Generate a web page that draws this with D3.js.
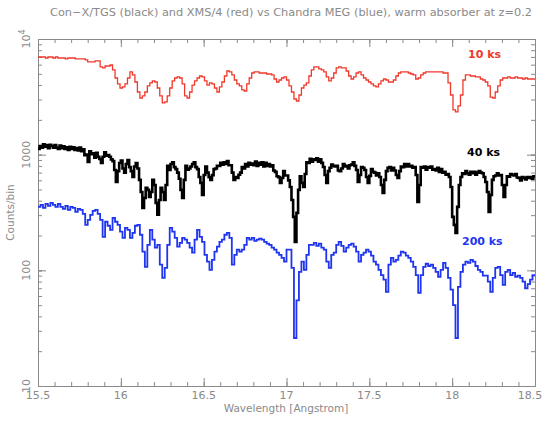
<!DOCTYPE html>
<html><head><meta charset="utf-8">
<script src="https://cdn.jsdelivr.net/npm/d3@7"></script>
<style>body{margin:0;background:#fff}svg{display:block}</style>
</head><body>
<script>
const titleText = "Con\u2212X/TGS (black) and  XMS/4 (red) vs Chandra MEG (blue), warm absorber at z=0.2";
const xLabel = "Wavelength [Angstrom]";
const yLabel = "Counts/bin";
const xTicks = [15.5, 16, 16.5, 17, 17.5, 18, 18.5];
const yTicks = [10, 100, 1000, 10000];
const seriesNames = ["10 ks", "40 ks", "200 ks"];

// XMS/4 (red), bins of 0.015 A starting at 15.5
const redStart = 15.5, redWidth = 0.015;
const redCounts = [
6990,6990,6990,6850,6990,6990,6850,6990,6850,6850,
6850,6720,6850,6850,6850,6720,6720,6720,6720,6590,
6330,6330,6330,6460,6460,5730,5620,5840,5840,5960,
5400,4600,4090,3770,3850,4090,4600,5190,4890,4250,
3480,3090,3220,3480,3930,4170,4340,4250,3770,3220,
2800,2860,3220,3770,4340,4600,4700,4600,4090,3220,
3090,3480,4000,4340,4600,4790,4700,4340,4000,4170,
4090,3770,3480,3850,4250,4790,5290,5190,4890,4420,
4090,3930,3630,3550,4090,4600,5080,5190,5190,5080,
5080,5080,4980,4980,4890,4510,4250,4420,4600,4700,
4420,3930,3480,3030,2910,3280,3770,4000,4170,4790,
5400,5730,5730,5510,5400,5190,4700,4340,4600,5080,
5620,5730,5620,5620,5290,4790,4510,4700,5080,5190,
4890,4600,4420,4250,4090,3930,3850,4090,4340,4510,
4420,4250,4250,4420,4790,5080,5190,5190,5190,5080,
4980,4890,4510,4600,4890,5080,5190,5190,5190,5190,
5190,5190,5190,5080,5080,4170,3280,2440,2340,2640,
3280,4420,4890,4890,4790,4790,4700,4700,4510,4420,
4250,3930,3150,3090,3480,3930,4420,4600,4600,4700,
4600,4600,4700,4600,4600,4510,4600,4510,4510,4510];

// Con-X/TGS (black), bins of 0.01 A
const blackStart = 15.5, blackWidth = 0.01;
const blackCounts = [
1120,1190,1150,1230,1170,1210,1140,1220,1190,1150,
1210,1150,1120,1200,1140,1180,1120,1160,1100,1170,
1120,1160,1100,1140,1090,1150,1070,1110,990,1000,
865,1070,1010,1030,940,1040,960,920,848,960,
1050,980,990,960,910,880,738,581,720,848,
890,760,700,830,900,780,720,642,790,848,
760,605,476,347,423,516,496,431,476,605,
547,383,302,406,516,476,406,547,800,738,
830,860,780,750,700,620,496,423,605,800,
740,760,790,830,860,780,750,642,570,449,
668,790,700,640,605,665,750,760,800,800,
850,820,860,830,880,810,810,700,605,642,
629,670,700,780,760,830,790,850,820,840,
810,870,800,850,820,860,790,850,800,830,
790,810,730,710,650,640,570,629,720,660,
660,600,526,406,290,176,314,496,650,570,
526,680,860,850,920,870,910,900,930,870,
910,850,783,668,570,720,770,820,800,790,
800,730,720,760,830,790,800,760,810,820,
860,800,738,581,668,780,770,738,642,570,
655,750,710,700,660,690,642,547,467,605,
720,770,780,730,770,730,668,629,720,790,
780,830,790,830,790,800,770,780,668,390,
547,780,770,790,740,780,770,790,740,750,
730,770,710,750,700,710,670,680,642,526,
290,247,211,354,547,642,690,680,720,690,
670,710,690,710,670,700,720,700,690,642,
581,476,320,449,605,650,660,690,660,665,
547,431,547,650,645,680,670,660,680,635,
630,600,640,630,610,640,630,640,620,650];

// Chandra MEG (blue), bins of 0.015 A
const blueStart = 15.5, blueWidth = 0.015;
const blueCounts = [
354,368,347,375,361,383,368,354,375,354,
340,361,333,354,347,320,340,333,308,247,
273,302,327,333,308,273,195,263,243,224,
284,263,247,216,191,233,224,191,211,243,
247,203,145,107,166,224,184,157,166,112,
86,105,166,233,216,191,160,173,191,184,
173,157,142,184,224,195,176,136,119,101,
123,145,160,176,184,203,211,191,112,136,
151,145,151,166,191,184,191,180,184,188,
184,176,170,166,157,151,142,136,128,119,
151,151,105,26,55,97,119,101,136,166,
166,173,163,170,157,151,119,105,136,142,
166,176,163,145,157,166,170,160,145,119,
136,142,151,145,134,119,112,101,91,83,
65,112,128,119,123,134,145,142,134,128,
119,107,91,64,91,107,114,109,112,105,
97,88,101,116,105,86,68,50,26,72,
97,112,119,116,123,119,109,101,97,90,
90,80,65,86,105,107,91,75,97,101,
91,95,88,90,86,80,70,76,83,91];

const W = 545, H = 425;
const L = 38, R = 535, T = 39, B = 386;
const gray = "#8a8a8a";
const font = "DejaVu Sans, sans-serif";

const svg = d3.select("body").append("svg").attr("width", W).attr("height", H);
const x = d3.scaleLinear().domain([15.5, 18.5]).range([L, R]);
const y = d3.scaleLog().domain([10, 10000]).range([B, T]);

svg.append("defs").append("clipPath").attr("id", "clip")
  .append("rect").attr("x", L).attr("y", T).attr("width", R - L).attr("height", B - T);

// axes (ticks inward, on all four sides)
const xMinor = d3.range(15.5, 18.5001, 0.1).map(v => +v.toFixed(2));
const yMinor = [];
[10, 100, 1000].forEach(d => { for (let k = 1; k <= 10; k++) yMinor.push(d * k); });

function axisGroup(axisFn, tr) {
  const g = svg.append("g").attr("transform", tr).call(axisFn);
  g.selectAll("path,line").attr("stroke", gray).attr("stroke-width", 1);
  g.selectAll("text").remove();
  return g;
}
axisGroup(d3.axisTop(x).tickValues(xMinor).tickSize(4).tickSizeOuter(0), `translate(0,${B})`);
axisGroup(d3.axisTop(x).tickValues(xTicks).tickSize(8).tickSizeOuter(0), `translate(0,${B})`);
axisGroup(d3.axisBottom(x).tickValues(xMinor).tickSize(4).tickSizeOuter(0), `translate(0,${T})`);
axisGroup(d3.axisBottom(x).tickValues(xTicks).tickSize(8).tickSizeOuter(0), `translate(0,${T})`);
axisGroup(d3.axisRight(y).tickValues(yMinor).tickSize(4).tickSizeOuter(0), `translate(${L},0)`);
axisGroup(d3.axisRight(y).tickValues(yTicks).tickSize(8).tickSizeOuter(0), `translate(${L},0)`);
axisGroup(d3.axisLeft(y).tickValues(yMinor).tickSize(4).tickSizeOuter(0), `translate(${R},0)`);
axisGroup(d3.axisLeft(y).tickValues(yTicks).tickSize(8).tickSizeOuter(0), `translate(${R},0)`);

// tick labels
svg.append("g").selectAll("text").data(xTicks).join("text")
  .attr("x", (d, i) => i === xTicks.length - 1 ? x(d) - 5 : x(d)).attr("y", B + 13).attr("text-anchor", "middle")
  .attr("font-family", font).attr("font-size", 11).attr("fill", gray)
  .text(d => String(d));

const yl = svg.append("g");
yTicks.forEach(d => {
  const t = yl.append("text")
    .attr("transform", `translate(${L - 8},${y(d)}) rotate(-90)`)
    .attr("text-anchor", "middle")
    .attr("font-family", font).attr("font-size", 11).attr("fill", gray);
  if (d === 10000) {
    t.append("tspan").text("10");
    t.append("tspan").attr("dy", -5).attr("font-size", 8).text("4");
  } else {
    t.text(String(d));
  }
});

// title and axis labels
svg.append("text").attr("x", 291).attr("y", 16).attr("text-anchor", "middle")
  .attr("font-family", font).attr("font-size", 10.5).attr("fill", gray)
  .attr("textLength", 482).attr("lengthAdjust", "spacingAndGlyphs")
  .text(titleText);
svg.append("text").attr("x", 286).attr("y", 412).attr("text-anchor", "middle")
  .attr("font-family", font).attr("font-size", 10.5).attr("fill", gray)
  .text(xLabel);
svg.append("text").attr("transform", `translate(14,${(T + B) / 2}) rotate(-90)`)
  .attr("text-anchor", "middle")
  .attr("font-family", font).attr("font-size", 10.5).attr("fill", gray)
  .text(yLabel);

// spectra as step histograms
function steps(start, width, counts) {
  const pts = counts.map((c, i) => [start + i * width, c]);
  pts.push([start + counts.length * width, counts[counts.length - 1]]);
  return pts;
}
const line = d3.line().x(d => x(d[0])).y(d => y(d[1])).curve(d3.curveStepAfter);
const plot = svg.append("g").attr("clip-path", "url(#clip)");
plot.append("path").attr("d", line(steps(blueStart, blueWidth, blueCounts)))
  .attr("fill", "none").attr("stroke", "#1f35f0").attr("stroke-width", 1.8);
plot.append("path").attr("d", line(steps(blackStart, blackWidth, blackCounts)))
  .attr("fill", "none").attr("stroke", "#000").attr("stroke-width", 2.6);
plot.append("path").attr("d", line(steps(redStart, redWidth, redCounts)))
  .attr("fill", "none").attr("stroke", "#f0392b").attr("stroke-width", 1.3);

// series labels
const labs = [
  {t: seriesNames[0], x: 468, y: 58, c: "#f0392b"},
  {t: seriesNames[1], x: 467, y: 156, c: "#000"},
  {t: seriesNames[2], x: 462, y: 245, c: "#1f35f0"}
];
svg.append("g").selectAll("text").data(labs).join("text")
  .attr("x", d => d.x).attr("y", d => d.y)
  .attr("font-family", font).attr("font-size", 11).attr("font-weight", "bold")
  .attr("fill", d => d.c).text(d => d.t);
</script>
</body></html>
